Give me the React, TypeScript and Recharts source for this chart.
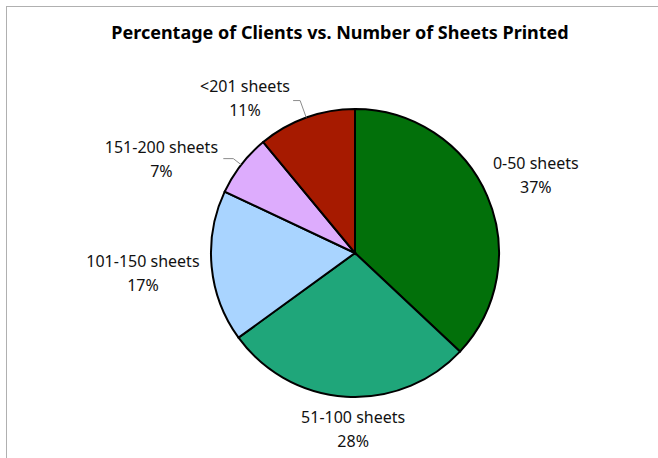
import React from "react";
import { PieChart, Pie, Cell } from "recharts";

const categories = ["0-50 sheets", "51-100 sheets", "101-150 sheets", "151-200 sheets", "<201 sheets"];
const percentages = [37, 28, 17, 7, 11];
const colors = ["#02700a", "#1fa67a", "#a9d4ff", "#ddacfd", "#a61a00"];

// label layout: angle shift (deg) and radial offset beyond outer radius
const labelAngleShift = [0, 3, 0, 12, 15.6];
const labelRadialOffset = [53, 32, 69, 71, 46];
const leaderLine = [null, null, null, { elbow: 10, run: 10 }, { elbow: 18, run: 7 }];

const data = categories.map((name, i) => ({ name, value: percentages[i] }));

const RAD = Math.PI / 180;

const renderLabel = (props: any) => {
  const { cx, cy, midAngle, outerRadius, index } = props;
  const a = midAngle + labelAngleShift[index];
  const r = outerRadius + labelRadialOffset[index];
  const x = cx + r * Math.cos(a * RAD);
  const y = cy - r * Math.sin(a * RAD);
  const ll = leaderLine[index];
  let line = null;
  if (ll) {
    const sx = cx + outerRadius * Math.cos(midAngle * RAD);
    const sy = cy - outerRadius * Math.sin(midAngle * RAD);
    const ex = cx + (outerRadius + ll.elbow) * Math.cos(midAngle * RAD);
    const ey = cy - (outerRadius + ll.elbow) * Math.sin(midAngle * RAD);
    line = (
      <polyline
        points={`${sx},${sy} ${ex},${ey} ${ex - ll.run},${ey}`}
        fill="none"
        stroke="#8c8c8c"
        strokeWidth={1}
      />
    );
  }
  return (
    <g key={`lbl-${index}`}>
      {line}
      <text
        x={x}
        y={y - 12}
        textAnchor="middle"
        dominantBaseline="central"
        fontFamily="'Noto Sans', sans-serif"
        fontSize={16}
        fill="#111"
      >
        {categories[index]}
      </text>
      <text
        x={x}
        y={y + 12}
        textAnchor="middle"
        dominantBaseline="central"
        fontFamily="'Noto Sans', sans-serif"
        fontSize={16}
        fill="#111"
      >
        {percentages[index]}%
      </text>
    </g>
  );
};

export default function App() {
  return (
    <div style={{ position: "fixed", top: 0, left: 0, width: 658, height: 458, background: "#fff" }}>
      <div
        style={{
          position: "absolute",
          left: 6,
          top: 6,
          width: 660,
          height: 460,
          borderTop: "1.5px solid #b0b0b0",
          borderLeft: "1.5px solid #b0b0b0",
        }}
      />
      <div
        style={{
          position: "absolute",
          left: 0,
          width: 680,
          top: 20,
          textAlign: "center",
          fontFamily: "'Noto Sans', sans-serif",
          fontWeight: 700,
          fontSize: 18,
          color: "#000",
        }}
      >
        Percentage of Clients vs. Number of Sheets Printed
      </div>
      <div style={{ position: "absolute", left: 0, top: 0 }}>
        <PieChart width={658} height={458}>
          <Pie
            data={data}
            dataKey="value"
            nameKey="name"
            cx={350}
            cy={248}
            outerRadius={144}
            startAngle={90}
            endAngle={-270}
            stroke="#000"
            strokeWidth={2}
            label={renderLabel}
            labelLine={false}
            isAnimationActive={false}
          >
            {data.map((d, i) => (
              <Cell key={d.name} fill={colors[i]} />
            ))}
          </Pie>
        </PieChart>
      </div>
    </div>
  );
}
